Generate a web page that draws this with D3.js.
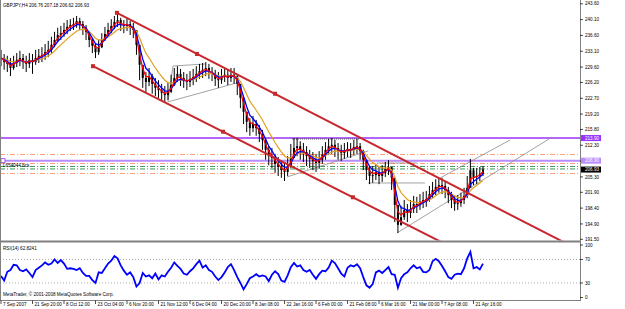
<!DOCTYPE html>
<html><head><meta charset="utf-8">
<script src="https://cdn.jsdelivr.net/npm/d3@7"></script>
<style>body{margin:0;background:#fff}svg{display:block}text{font-family:"Liberation Sans",Arial,sans-serif}</style>
</head><body><svg id="c" width="625" height="309"></svg>
<script>
const title = "GBPJPY,H4  206.76 207.18 206.62 206.93";
const timeLabels = ["7 Sep 2007","21 Sep 20:00","8 Oct 12:00","23 Oct 04:00","6 Nov 20:00","21 Nov 12:00","6 Dec 04:00","20 Dec 20:00","8 Jan 08:00","22 Jan 16:00","6 Feb 00:00","21 Feb 08:00","6 Mar 16:00","21 Mar 00:00","7 Apr 08:00","21 Apr 16:00"];
const priceTicks = [243.60,240.10,236.60,233.10,229.60,226.20,222.70,219.20,215.80,212.30,208.80,205.30,201.90,198.40,194.90,191.50];
const rsiTicks = [100,70,30,0];
const rsiLevels = [70,30];

const high = [233.4,232.5,232.1,231.6,232.1,232.7,233.2,232.5,232.1,232.7,232.5,233.4,233.6,234.0,234.7,235.4,236.3,237.4,238.3,238.7,
239.4,240.0,240.2,240.5,240.9,240.5,239.8,238.9,237.4,236.0,234.7,235.6,237.1,238.5,239.4,240.2,240.9,241.6,240.5,240.0,
240.5,239.8,239.4,237.1,233.4,229.4,228.5,229.4,228.1,227.2,226.7,225.9,225.4,226.1,227.9,229.4,229.8,229.2,228.5,228.1,
228.7,229.2,229.8,230.3,230.5,230.7,230.3,229.6,229.0,228.5,229.2,229.4,229.0,229.4,229.4,227.9,225.6,222.3,219.7,218.3,
218.8,217.9,216.8,215.7,213.9,212.1,211.7,210.4,209.7,209.0,208.6,209.9,212.6,213.9,213.9,213.2,212.8,212.1,211.3,210.8,
210.4,211.0,212.1,213.0,213.7,213.9,213.5,212.8,212.4,212.8,213.0,212.8,213.5,213.7,212.8,211.3,209.1,207.5,207.7,208.2,
207.5,207.9,208.6,209.0,207.3,203.5,198.0,198.9,200.2,199.3,200.2,201.1,200.9,201.5,202.0,202.2,203.3,204.2,204.8,205.1,
205.1,204.2,203.1,202.0,201.1,201.3,201.8,202.9,205.5,209.3,207.3,207.3,207.5,207.7];
const low = [229.8,229.0,228.5,227.6,229.0,229.6,229.8,229.2,228.5,229.4,228.1,230.1,230.5,230.7,231.2,231.8,232.7,234.0,235.2,235.6,
236.3,236.9,237.6,237.8,238.3,237.8,236.7,235.6,234.0,232.7,231.6,232.3,233.8,235.4,236.3,237.1,238.0,238.5,237.6,237.1,
237.6,236.7,236.0,232.3,226.7,225.0,224.1,225.4,223.7,223.2,222.8,222.3,221.7,222.3,223.9,225.4,226.3,225.4,225.0,224.5,
225.2,225.6,226.3,227.0,227.2,227.6,227.0,226.5,225.4,225.0,225.9,226.3,225.6,226.3,225.9,223.4,220.5,217.0,215.2,214.4,
215.2,214.4,213.0,211.3,209.1,207.9,207.3,206.2,205.5,205.1,204.4,205.5,207.3,209.5,209.9,209.1,208.6,207.7,207.3,206.8,
206.4,207.1,208.2,209.1,210.2,210.4,209.7,209.1,208.8,209.3,209.7,209.5,210.2,210.4,209.1,206.8,204.6,203.7,204.0,204.6,
203.7,204.2,205.3,205.7,202.4,195.3,192.9,194.5,195.8,195.3,196.2,197.3,197.3,198.0,198.4,198.7,199.8,200.6,201.3,201.8,
201.5,200.6,199.5,198.4,197.8,198.0,198.7,199.3,200.6,203.5,203.5,203.7,204.4,205.5];
const close = [231.6,230.7,230.3,229.4,230.5,231.2,231.6,230.7,230.3,231.2,230.7,231.6,232.1,232.3,232.9,233.4,234.5,235.6,236.7,237.1,
237.8,238.5,238.9,239.1,239.8,239.1,238.3,237.4,235.6,234.3,232.9,234.0,235.6,236.9,237.8,238.7,239.6,240.0,239.1,238.7,
239.1,238.3,237.8,234.5,230.1,227.2,226.3,227.6,225.9,225.0,224.5,223.9,223.4,224.1,225.6,227.2,228.1,227.2,226.5,226.3,
227.0,227.4,228.1,228.7,229.0,229.4,228.5,228.1,227.0,226.7,227.4,227.9,227.2,227.9,227.6,225.9,222.8,219.7,217.5,216.1,
217.0,216.1,214.8,213.5,211.3,209.9,209.5,208.2,207.5,206.8,206.4,207.7,209.5,211.7,212.1,211.3,210.8,209.9,209.3,208.8,
208.4,209.1,210.2,211.3,212.1,212.4,211.7,211.0,210.6,211.0,211.5,211.3,211.9,212.1,211.0,209.1,206.8,205.5,205.7,206.4,
205.5,206.2,207.1,207.5,205.1,199.1,194.7,196.4,198.0,197.3,198.2,199.3,199.1,199.8,200.2,200.4,201.5,202.4,203.1,203.5,
203.3,202.4,201.3,200.2,199.3,199.5,200.2,201.1,202.9,206.8,205.3,205.5,206.0,206.93];
const rsi = [42,34,49,52,61,60,52,50,53,47,40,52,56,60,65,61,63,70,64,69,
63,54,55,54,52,55,47,42,42,35,30,48,47,55,63,68,76,72,60,51,
44,48,40,24,30,47,41,43,38,46,36,43,41,49,56,65,59,54,46,44,
50,55,62,68,56,60,52,49,41,35,40,48,57,62,52,40,30,19,28,38,
41,45,41,43,41,33,44,50,45,34,32,43,57,64,58,60,52,49,52,44,
37,45,51,50,56,68,64,55,46,41,56,60,58,62,55,40,26,22,28,48,
51,47,52,57,45,44,22,38,45,48,55,60,55,57,49,48,52,67,71,67,
59,50,40,37,44,46,45,55,72,83,55,57,53,62.82];

const levelPrices = [213.90, 208.90];
const pivotPrices = [210.26, 208.27, 207.61, 207.06, 206.06];
const pivotColors = ["#ffa07a","#ffa07a","#3c9a5a","#3c9a5a","#ffa07a"];
const lastPrice = 206.93;

const chUpper = [[36.8,241.6],[185,188.6]];
const chLower = [[29.2,229.8],[150,187.3]];
const chDots = [[36.8,241.6],[62.2,232.5],[87.0,223.7],[29.2,229.8],[70.5,215.3],[111.7,200.8]];
const grayLines = [
  [[125.7,192.9],[174.9,214.1]],
  [[139.4,205.07],[161.6,213.47]],
  [[53.0,221.9],[75.9,226.3]],
  [[54.6,229.84],[64.8,230.28]],
  [[54.6,229.84],[53.0,221.9]],
  [[90.8,205.29],[116.5,211.04]],
  [[119.4,208.38],[132.1,208.38]],
  [[116.5,203.96],[134.6,203.96]]
];
const dottedLine = [[92.4,213.69],[114.0,213.69]];

const svg = d3.select("#c");
const X0=1, XR=580;
const x = d3.scaleLinear().domain([0,183.8]).range([X0,XR]);
const y = d3.scaleLinear().domain([191.5,244.44]).range([239.3,0]);
const yr = d3.scaleLinear().domain([0,100]).range([300.6,241.85]);

const defs = svg.append("defs");
defs.append("clipPath").attr("id","cp").append("rect").attr("x",0).attr("y",0).attr("width",XR).attr("height",240.5);
defs.append("clipPath").attr("id","cr").append("rect").attr("x",0).attr("y",243).attr("width",XR).attr("height",57);

const gP = svg.append("g").attr("clip-path","url(#cp)");
const gR = svg.append("g").attr("clip-path","url(#cr)");

pivotPrices.forEach((p,k)=>{
  gP.append("line").attr("x1",0).attr("x2",XR).attr("y1",y(p)).attr("y2",y(p))
    .attr("stroke",pivotColors[k]).attr("stroke-width",1).attr("stroke-dasharray","5,2,1,2");
});
gP.append("line").attr("x1",0).attr("x2",XR).attr("y1",y(levelPrices[0])).attr("y2",y(levelPrices[0]))
  .attr("stroke","#9933ff").attr("stroke-width",1.5);
gP.append("line").attr("x1",0).attr("x2",XR).attr("y1",y(levelPrices[1])).attr("y2",y(levelPrices[1]))
  .attr("stroke","#b98cff").attr("stroke-width",2);
gP.append("rect").attr("x",1).attr("y",y(levelPrices[1])-2).attr("width",4).attr("height",4)
  .attr("fill","#fff").attr("stroke","#9933ff").attr("stroke-width",0.8);

const line = d3.line().x(d=>x(d[0])).y(d=>y(d[1]));
grayLines.forEach(l=>gP.append("path").attr("d",line(l)).attr("stroke","#8c8c8c").attr("stroke-width",0.8).attr("fill","none"));
gP.append("path").attr("d",line(dottedLine)).attr("stroke","#333").attr("stroke-width",0.8).attr("stroke-dasharray","1,1").attr("fill","none");

const bars = close.map((c,i)=>({i,h:high[i],l:low[i],o:i?close[i-1]:c,c}));
gP.selectAll("line.w").data(bars).join("line")
  .attr("x1",d=>x(d.i)).attr("x2",d=>x(d.i)).attr("y1",d=>y(d.h)).attr("y2",d=>y(d.l))
  .attr("stroke","#000").attr("stroke-width",1);
gP.selectAll("rect.b").data(bars).join("rect")
  .attr("x",d=>x(d.i)-1).attr("width",2)
  .attr("y",d=>y(Math.max(d.o,d.c))).attr("height",d=>Math.max(1,Math.abs(y(d.o)-y(d.c))))
  .attr("fill","#000");

function ema(arr,a){let out=[],v=arr[0];arr.forEach((c,i)=>{v=i?a*c+(1-a)*v:c;out.push([i,v]);});return out;}
gP.append("path").attr("d",line(ema(close,0.2))).attr("stroke","#e0a020").attr("stroke-width",1.2).attr("fill","none");
gP.append("path").attr("d",line(ema(close,0.4))).attr("stroke","#0000ff").attr("stroke-width",1.3).attr("fill","none");
gP.append("path").attr("d",line(ema(close,0.6))).attr("stroke","#ff0000").attr("stroke-width",1.2).attr("fill","none");

[chUpper,chLower].forEach(l=>gP.append("path").attr("d",line(l)).attr("stroke","#c8282d").attr("stroke-width",2).attr("fill","none"));
gP.selectAll("rect.d").data(chDots).join("rect")
  .attr("x",d=>x(d[0])-2).attr("y",d=>y(d[1])-2).attr("width",4).attr("height",4).attr("fill","#c8282d");

rsiLevels.forEach(v=>gR.append("line").attr("x1",0).attr("x2",XR).attr("y1",yr(v)).attr("y2",yr(v))
  .attr("stroke","#999").attr("stroke-width",0.8).attr("stroke-dasharray","1,2"));
gR.append("path").attr("d",d3.line().x((d,i)=>x(i)).y(d=>yr(d))(rsi)).attr("stroke","#0000ff").attr("stroke-width",1.8).attr("fill","none");

const axc="#808080";
svg.append("line").attr("x1",0.5).attr("x2",0.5).attr("y1",0).attr("y2",300.5).attr("stroke",axc);
svg.append("line").attr("x1",XR+0.5).attr("x2",XR+0.5).attr("y1",0).attr("y2",301).attr("stroke",axc);
svg.append("rect").attr("x",0).attr("y",240.5).attr("width",XR+1).attr("height",2).attr("fill",axc);
svg.append("line").attr("x1",0).attr("x2",XR+1).attr("y1",300.5).attr("y2",300.5).attr("stroke",axc);

const fs=4.6;
priceTicks.forEach(p=>{
  const yy = Math.max(3, y(p));
  svg.append("line").attr("x1",XR).attr("x2",XR+3).attr("y1",yy).attr("y2",yy).attr("stroke","#000").attr("stroke-width",0.7);
  svg.append("text").attr("x",XR+5).attr("y",yy+1.6).attr("font-size",fs).text(p.toFixed(2));
});
function box(p,fill,txtc){
  const yy=y(p);
  svg.append("rect").attr("x",XR+1).attr("y",yy-3).attr("width",20).attr("height",6).attr("fill",fill);
  svg.append("text").attr("x",XR+5).attr("y",yy+1.6).attr("font-size",fs).attr("fill",txtc).text(p.toFixed(2));
}
box(levelPrices[0],"#9933ff","#fff");
box(levelPrices[1],"#b98cff","#fff");
box(lastPrice,"#000","#fff");
rsiTicks.forEach(v=>{
  const yy = Math.min(297.5, Math.max(245, yr(v)));
  svg.append("line").attr("x1",XR).attr("x2",XR+3).attr("y1",yy).attr("y2",yy).attr("stroke","#000").attr("stroke-width",0.7);
  svg.append("text").attr("x",XR+5).attr("y",yy+1.6).attr("font-size",fs).text(v);
});
timeLabels.forEach((t,k)=>{
  const xx = x(k*10);
  svg.append("line").attr("x1",xx).attr("x2",xx).attr("y1",300.5).attr("y2",304).attr("stroke","#000").attr("stroke-width",0.7);
  svg.append("text").attr("x",xx+2).attr("y",306).attr("font-size",fs).text(t);
});
svg.append("text").attr("x",3).attr("y",7).attr("font-size",fs).text(title);
svg.append("text").attr("x",3).attr("y",249.5).attr("font-size",fs).text("RSI(14) 62.8241");
svg.append("text").attr("x",3).attr("y",296).attr("font-size",fs).text("MetaTrader, © 2001-2008 MetaQuotes Software Corp.");
svg.append("text").attr("x",3).attr("y",167).attr("font-size",fs).text("L654044 bcs");
</script></body></html>
